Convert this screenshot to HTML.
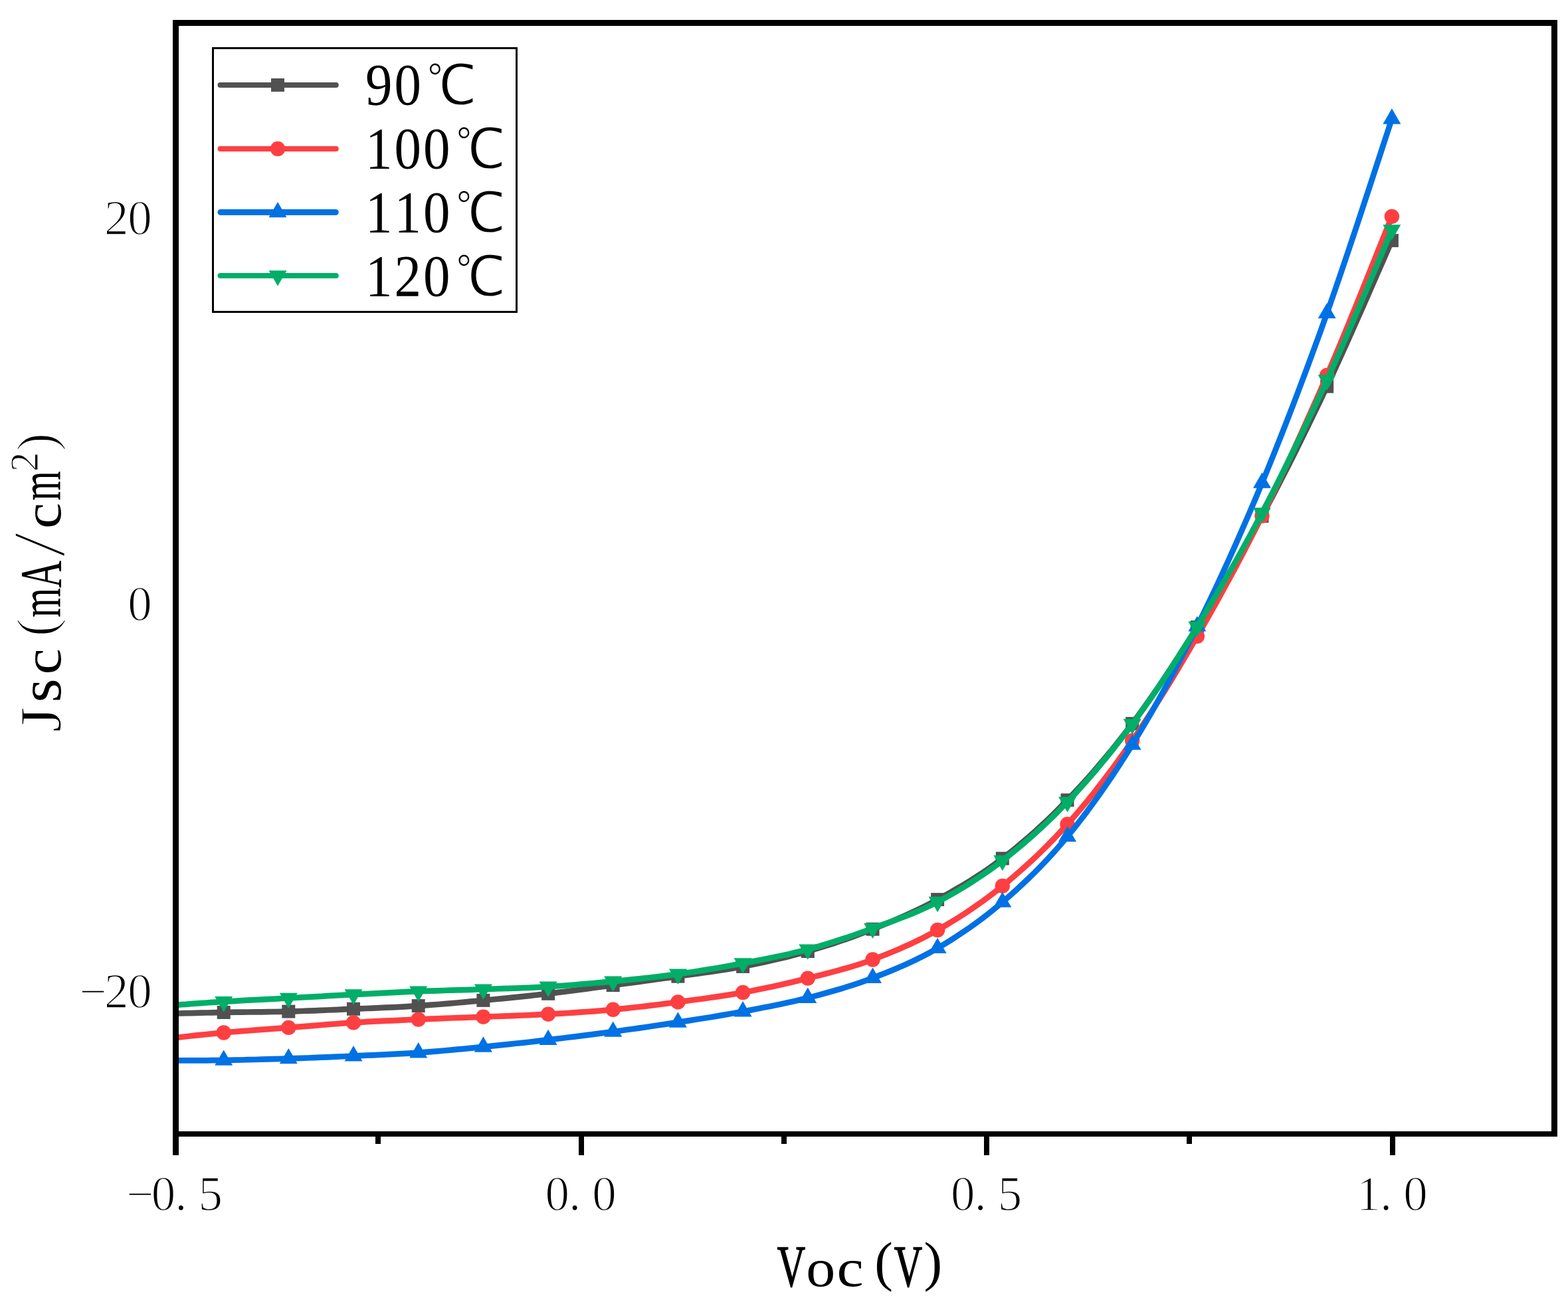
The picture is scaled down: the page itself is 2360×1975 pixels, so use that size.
<!DOCTYPE html>
<html><head><meta charset="utf-8"><title>J-V curves</title>
<style>
html,body{margin:0;padding:0;background:#fff;}
svg{display:block;}
text{font-family:"Liberation Serif","Noto Serif CJK SC",serif;fill:#000;text-anchor:middle;}
.tk{font-size:73px;stroke:#fff;stroke-width:1.6px;}
.lg{font-size:88px;}
.deg{font-size:84px;stroke:#fff;stroke-width:1.6px;font-family:"Liberation Serif","WenQuanYi Zen Hei",sans-serif;}
.ti{font-size:88px;}
.tij{font-size:88px;stroke:#fff;stroke-width:1.4px;}
.tib{font-size:88px;stroke:#000;stroke-width:1.6px;}
.sup{font-size:62px;stroke:#fff;stroke-width:1.2px;}
.parx{font-size:83px;}
.par{font-size:83px;stroke:#fff;stroke-width:2px;}
.sl{font-size:113px;stroke:#fff;stroke-width:2.6px;}
</style></head>
<body>
<svg width="2360" height="1975" viewBox="0 0 2360 1975">
<rect width="2360" height="1975" fill="#fff"/>
<g>
<path d="M264.5 1525.6 L268.7 1525.5 L273.9 1525.4 L280 1525.2 L286.9 1525.1 L294.5 1524.9 L302.5 1524.7 L310.9 1524.5 L319.4 1524.3 L328.1 1524.2 L336.7 1524 L345.4 1523.9 L354.6 1523.7 L364.1 1523.6 L373.9 1523.5 L383.9 1523.4 L394 1523.3 L404.2 1523.2 L414.4 1523 L424.5 1522.8 L434.3 1522.6 L444.1 1522.3 L453.9 1522 L463.6 1521.7 L473.4 1521.3 L483.2 1520.9 L492.9 1520.5 L502.7 1520.1 L512.5 1519.7 L522.3 1519.2 L532 1518.8 L541.8 1518.4 L551.6 1518 L561.3 1517.6 L571.1 1517.2 L580.9 1516.7 L590.6 1516.3 L600.4 1515.8 L610.2 1515.3 L619.9 1514.7 L629.7 1514.1 L639.5 1513.4 L649.2 1512.7 L659 1512 L668.8 1511.2 L678.5 1510.3 L688.3 1509.5 L698.1 1508.6 L707.8 1507.7 L717.6 1506.8 L727.4 1505.9 L737.1 1505 L746.9 1504 L756.7 1503.1 L766.5 1502.1 L776.2 1501.1 L786 1500.1 L795.8 1499.1 L805.5 1498 L815.3 1496.9 L825.1 1495.8 L834.8 1494.6 L844.6 1493.4 L854.4 1492.2 L864.1 1490.9 L873.9 1489.7 L883.7 1488.4 L893.4 1487 L903.2 1485.7 L913 1484.4 L922.7 1483.1 L932.5 1481.8 L942.3 1480.5 L952 1479.2 L961.8 1477.9 L971.6 1476.5 L981.3 1475.2 L991.1 1473.8 L1000.9 1472.5 L1010.7 1471.1 L1020.4 1469.7 L1030.2 1468.3 L1040 1467 L1049.7 1465.6 L1059.5 1464.3 L1069.3 1462.9 L1079 1461.5 L1088.8 1460 L1098.6 1458.4 L1108.3 1456.7 L1118.1 1454.9 L1127.9 1453 L1137.6 1451 L1147.4 1449 L1157.2 1446.8 L1166.9 1444.6 L1176.7 1442.3 L1186.5 1439.9 L1196.2 1437.4 L1206 1434.7 L1215.8 1432 L1225.5 1429.1 L1235.3 1426.2 L1245.1 1423.1 L1254.9 1420 L1264.6 1416.7 L1274.4 1413.3 L1284.2 1409.8 L1293.9 1406.2 L1303.7 1402.5 L1313.5 1398.7 L1323.2 1394.8 L1333 1390.8 L1342.8 1386.7 L1352.5 1382.5 L1362.3 1378.2 L1372.1 1373.7 L1381.8 1369.1 L1391.6 1364.3 L1401.4 1359.3 L1411.1 1354.1 L1420.9 1348.7 L1430.7 1343.3 L1440.4 1337.6 L1450.2 1331.9 L1460 1325.9 L1469.7 1319.7 L1479.5 1313.3 L1489.3 1306.6 L1499.1 1299.6 L1508.8 1292.3 L1518.6 1284.7 L1528.4 1276.8 L1538.1 1268.7 L1547.9 1260.3 L1557.7 1251.7 L1567.4 1242.8 L1577.2 1233.6 L1587 1224.1 L1596.7 1214.4 L1606.5 1204.4 L1616.3 1194.1 L1626 1183.6 L1635.8 1172.8 L1645.6 1161.8 L1655.3 1150.4 L1665.1 1138.8 L1674.9 1126.9 L1684.6 1114.7 L1694.4 1102.2 L1704.2 1089.3 L1713.9 1076.1 L1723.7 1062.5 L1733.5 1048.6 L1743.3 1034.4 L1753 1019.9 L1762.8 1005.1 L1772.6 990.2 L1782.3 974.9 L1792.1 959.6 L1801.9 944 L1811.6 928.3 L1821.4 912.4 L1831.2 896.3 L1840.9 880 L1850.7 863.5 L1860.5 846.7 L1870.2 829.7 L1880 812.4 L1889.8 794.7 L1899.5 776.8 L1909.3 758.5 L1919.1 740 L1928.8 721.1 L1938.6 701.9 L1948.4 682.5 L1958.1 662.8 L1967.9 642.9 L1977.7 622.7 L1987.5 602.3 L1997.2 581.7 L2007.4 559.7 L2018.3 535.8 L2029.6 510.7 L2041 485.1 L2052.2 459.7 L2062.9 435.3 L2072.8 412.6 L2081.6 392.4 L2089.1 375.3 L2094.9 362.1" fill="none" stroke="#515151" stroke-width="8.7" stroke-linejoin="round"/>
<rect x="326.7" y="1514" width="20" height="20" fill="#515151"/>
<rect x="424.3" y="1512.6" width="20" height="20" fill="#515151"/>
<rect x="522" y="1508.8" width="20" height="20" fill="#515151"/>
<rect x="619.7" y="1504.1" width="20" height="20" fill="#515151"/>
<rect x="717.4" y="1495.9" width="20" height="20" fill="#515151"/>
<rect x="815.1" y="1485.8" width="20" height="20" fill="#515151"/>
<rect x="912.7" y="1473.1" width="20" height="20" fill="#515151"/>
<rect x="1010.4" y="1459.7" width="20" height="20" fill="#515151"/>
<rect x="1108.1" y="1444.9" width="20" height="20" fill="#515151"/>
<rect x="1205.8" y="1422" width="20" height="20" fill="#515151"/>
<rect x="1303.5" y="1388.7" width="20" height="20" fill="#515151"/>
<rect x="1401.1" y="1344.1" width="20" height="20" fill="#515151"/>
<rect x="1498.8" y="1282.3" width="20" height="20" fill="#515151"/>
<rect x="1596.5" y="1194.4" width="20" height="20" fill="#515151"/>
<rect x="1694.2" y="1079.3" width="20" height="20" fill="#515151"/>
<rect x="1791.9" y="934" width="20" height="20" fill="#515151"/>
<rect x="1889.5" y="766.8" width="20" height="20" fill="#515151"/>
<rect x="1987.2" y="571.7" width="20" height="20" fill="#515151"/>
<rect x="2084.9" y="352.1" width="20" height="20" fill="#515151"/>
<path d="M264.5 1562 L268.7 1561.6 L273.9 1561 L280 1560.3 L286.9 1559.5 L294.5 1558.7 L302.5 1557.9 L310.9 1557 L319.4 1556.1 L328.1 1555.3 L336.7 1554.5 L345.4 1553.7 L354.6 1553 L364.1 1552.2 L373.9 1551.5 L383.9 1550.7 L394 1549.9 L404.2 1549.2 L414.4 1548.4 L424.5 1547.7 L434.3 1546.9 L444.1 1546.1 L453.9 1545.4 L463.6 1544.6 L473.4 1543.8 L483.2 1543 L492.9 1542.2 L502.7 1541.5 L512.5 1540.7 L522.3 1540 L532 1539.4 L541.8 1538.8 L551.6 1538.2 L561.3 1537.7 L571.1 1537.2 L580.9 1536.7 L590.6 1536.3 L600.4 1535.8 L610.2 1535.4 L619.9 1534.9 L629.7 1534.5 L639.5 1534.1 L649.2 1533.7 L659 1533.3 L668.8 1532.9 L678.5 1532.5 L688.3 1532.2 L698.1 1531.8 L707.8 1531.5 L717.6 1531.1 L727.4 1530.7 L737.1 1530.3 L746.9 1530 L756.7 1529.6 L766.5 1529.3 L776.2 1528.9 L786 1528.5 L795.8 1528.1 L805.5 1527.7 L815.3 1527.2 L825.1 1526.7 L834.8 1526.1 L844.6 1525.6 L854.4 1525 L864.1 1524.4 L873.9 1523.7 L883.7 1523 L893.4 1522.3 L903.2 1521.5 L913 1520.7 L922.7 1519.8 L932.5 1518.9 L942.3 1517.9 L952 1516.8 L961.8 1515.7 L971.6 1514.6 L981.3 1513.4 L991.1 1512.2 L1000.9 1510.9 L1010.7 1509.7 L1020.4 1508.4 L1030.2 1507.1 L1040 1505.8 L1049.7 1504.5 L1059.5 1503.2 L1069.3 1501.8 L1079 1500.4 L1088.8 1498.9 L1098.6 1497.4 L1108.3 1495.7 L1118.1 1494 L1127.9 1492.2 L1137.6 1490.3 L1147.4 1488.3 L1157.2 1486.3 L1166.9 1484.2 L1176.7 1482 L1186.5 1479.7 L1196.2 1477.4 L1206 1475 L1215.8 1472.6 L1225.5 1470.1 L1235.3 1467.7 L1245.1 1465.2 L1254.9 1462.6 L1264.6 1460 L1274.4 1457.2 L1284.2 1454.3 L1293.9 1451.3 L1303.7 1448 L1313.5 1444.5 L1323.2 1440.8 L1333 1437 L1342.8 1433 L1352.5 1428.9 L1362.3 1424.6 L1372.1 1420.2 L1381.8 1415.5 L1391.6 1410.6 L1401.4 1405.4 L1411.1 1400 L1420.9 1394.4 L1430.7 1388.6 L1440.4 1382.6 L1450.2 1376.3 L1460 1369.9 L1469.7 1363.2 L1479.5 1356.2 L1489.3 1349 L1499.1 1341.5 L1508.8 1333.7 L1518.6 1325.6 L1528.4 1317.3 L1538.1 1308.8 L1547.9 1300 L1557.7 1291 L1567.4 1281.6 L1577.2 1271.9 L1587 1261.9 L1596.7 1251.5 L1606.5 1240.8 L1616.3 1229.7 L1626 1218.2 L1635.8 1206.5 L1645.6 1194.4 L1655.3 1181.9 L1665.1 1169.2 L1674.9 1156.1 L1684.6 1142.7 L1694.4 1129 L1704.2 1115 L1713.9 1100.7 L1723.7 1086 L1733.5 1070.9 L1743.3 1055.5 L1753 1039.9 L1762.8 1023.9 L1772.6 1007.7 L1782.3 991.3 L1792.1 974.6 L1801.9 957.8 L1811.6 940.8 L1821.4 923.6 L1831.2 906.1 L1840.9 888.5 L1850.7 870.5 L1860.5 852.4 L1870.2 833.9 L1880 815.1 L1889.8 796 L1899.5 776.5 L1909.3 756.7 L1919.1 736.6 L1928.8 716.1 L1938.6 695.4 L1948.4 674.4 L1958.1 653 L1967.9 631.4 L1977.7 609.5 L1987.5 587.4 L1997.2 565 L2007.4 541.1 L2018.3 515.1 L2029.6 487.8 L2041 459.9 L2052.2 432.2 L2062.9 405.6 L2072.8 380.9 L2081.6 358.9 L2089.1 340.3 L2094.9 325.9" fill="none" stroke="#FE3F42" stroke-width="8.7" stroke-linejoin="round"/>
<circle cx="336.7" cy="1554.5" r="11.2" fill="#FE3F42"/>
<circle cx="434.3" cy="1546.9" r="11.2" fill="#FE3F42"/>
<circle cx="532" cy="1539.4" r="11.2" fill="#FE3F42"/>
<circle cx="629.7" cy="1534.5" r="11.2" fill="#FE3F42"/>
<circle cx="727.4" cy="1530.7" r="11.2" fill="#FE3F42"/>
<circle cx="825.1" cy="1526.7" r="11.2" fill="#FE3F42"/>
<circle cx="922.7" cy="1519.8" r="11.2" fill="#FE3F42"/>
<circle cx="1020.4" cy="1508.4" r="11.2" fill="#FE3F42"/>
<circle cx="1118.1" cy="1494" r="11.2" fill="#FE3F42"/>
<circle cx="1215.8" cy="1472.6" r="11.2" fill="#FE3F42"/>
<circle cx="1313.5" cy="1444.5" r="11.2" fill="#FE3F42"/>
<circle cx="1411.1" cy="1400" r="11.2" fill="#FE3F42"/>
<circle cx="1508.8" cy="1333.7" r="11.2" fill="#FE3F42"/>
<circle cx="1606.5" cy="1240.8" r="11.2" fill="#FE3F42"/>
<circle cx="1704.2" cy="1115" r="11.2" fill="#FE3F42"/>
<circle cx="1801.9" cy="957.8" r="11.2" fill="#FE3F42"/>
<circle cx="1899.5" cy="776.5" r="11.2" fill="#FE3F42"/>
<circle cx="1997.2" cy="565" r="11.2" fill="#FE3F42"/>
<circle cx="2094.9" cy="325.9" r="11.2" fill="#FE3F42"/>
<path d="M264.5 1596.3 L268.7 1596.3 L273.9 1596.3 L280 1596.3 L286.9 1596.3 L294.5 1596.3 L302.5 1596.3 L310.9 1596.3 L319.4 1596.2 L328.1 1596.1 L336.7 1596 L345.4 1595.8 L354.6 1595.7 L364.1 1595.5 L373.9 1595.2 L383.9 1595 L394 1594.7 L404.2 1594.4 L414.4 1594.1 L424.5 1593.8 L434.3 1593.5 L444.1 1593.2 L453.9 1592.8 L463.6 1592.5 L473.4 1592.1 L483.2 1591.7 L492.9 1591.3 L502.7 1590.9 L512.5 1590.5 L522.3 1590 L532 1589.6 L541.8 1589.2 L551.6 1588.7 L561.3 1588.3 L571.1 1587.9 L580.9 1587.4 L590.6 1586.9 L600.4 1586.4 L610.2 1585.9 L619.9 1585.3 L629.7 1584.6 L639.5 1583.9 L649.2 1583.1 L659 1582.3 L668.8 1581.5 L678.5 1580.6 L688.3 1579.7 L698.1 1578.8 L707.8 1577.8 L717.6 1576.9 L727.4 1575.9 L737.1 1574.9 L746.9 1573.9 L756.7 1572.9 L766.5 1571.9 L776.2 1570.8 L786 1569.8 L795.8 1568.7 L805.5 1567.6 L815.3 1566.4 L825.1 1565.3 L834.8 1564.1 L844.6 1563 L854.4 1561.8 L864.1 1560.6 L873.9 1559.4 L883.7 1558.1 L893.4 1556.9 L903.2 1555.6 L913 1554.3 L922.7 1553 L932.5 1551.7 L942.3 1550.3 L952 1549 L961.8 1547.6 L971.6 1546.2 L981.3 1544.8 L991.1 1543.3 L1000.9 1541.9 L1010.7 1540.4 L1020.4 1538.9 L1030.2 1537.4 L1040 1535.9 L1049.7 1534.3 L1059.5 1532.8 L1069.3 1531.2 L1079 1529.6 L1088.8 1527.9 L1098.6 1526.3 L1108.3 1524.5 L1118.1 1522.7 L1127.9 1520.9 L1137.6 1519 L1147.4 1517.1 L1157.2 1515.2 L1166.9 1513.3 L1176.7 1511.2 L1186.5 1509.1 L1196.2 1506.9 L1206 1504.6 L1215.8 1502.1 L1225.5 1499.6 L1235.3 1497 L1245.1 1494.3 L1254.9 1491.5 L1264.6 1488.7 L1274.4 1485.7 L1284.2 1482.6 L1293.9 1479.3 L1303.7 1475.8 L1313.5 1472.2 L1323.2 1468.4 L1333 1464.6 L1342.8 1460.6 L1352.5 1456.5 L1362.3 1452.2 L1372.1 1447.7 L1381.8 1443 L1391.6 1438.1 L1401.4 1432.8 L1411.1 1427.3 L1420.9 1421.5 L1430.7 1415.5 L1440.4 1409.2 L1450.2 1402.7 L1460 1396 L1469.7 1389 L1479.5 1381.7 L1489.3 1374.1 L1499.1 1366.2 L1508.8 1358 L1518.6 1349.5 L1528.4 1340.8 L1538.1 1331.8 L1547.9 1322.5 L1557.7 1313 L1567.4 1303 L1577.2 1292.7 L1587 1282 L1596.7 1270.9 L1606.5 1259.3 L1616.3 1247.3 L1626 1234.8 L1635.8 1222 L1645.6 1208.7 L1655.3 1195.1 L1665.1 1181.1 L1674.9 1166.7 L1684.6 1151.8 L1694.4 1136.6 L1704.2 1121 L1713.9 1105 L1723.7 1088.5 L1733.5 1071.7 L1743.3 1054.4 L1753 1036.8 L1762.8 1018.7 L1772.6 1000.3 L1782.3 981.5 L1792.1 962.3 L1801.9 942.8 L1811.6 922.9 L1821.4 902.7 L1831.2 882 L1840.9 861.1 L1850.7 839.7 L1860.5 817.9 L1870.2 795.8 L1880 773.2 L1889.8 750.3 L1899.5 726.9 L1909.3 703.1 L1919.1 678.9 L1928.8 654.4 L1938.6 629.4 L1948.4 604 L1958.1 578.2 L1967.9 552.1 L1977.7 525.6 L1987.5 498.7 L1997.2 471.5 L2007.4 442.4 L2018.3 410.7 L2029.6 377.2 L2041 343.1 L2052.2 309.2 L2062.9 276.7 L2072.8 246.3 L2081.6 219.3 L2089.1 196.5 L2094.9 178.9" fill="none" stroke="#0071E4" stroke-width="8.7" stroke-linejoin="round"/>
<polygon points="336.7,1580.4 350.2,1603.8 323.2,1603.8" fill="#0071E4"/>
<polygon points="434.3,1577.9 447.8,1601.3 420.8,1601.3" fill="#0071E4"/>
<polygon points="532,1574 545.5,1597.4 518.5,1597.4" fill="#0071E4"/>
<polygon points="629.7,1569 643.2,1592.4 616.2,1592.4" fill="#0071E4"/>
<polygon points="727.4,1560.3 740.9,1583.7 713.9,1583.7" fill="#0071E4"/>
<polygon points="825.1,1549.7 838.6,1573.1 811.6,1573.1" fill="#0071E4"/>
<polygon points="922.7,1537.4 936.2,1560.8 909.2,1560.8" fill="#0071E4"/>
<polygon points="1020.4,1523.3 1033.9,1546.7 1006.9,1546.7" fill="#0071E4"/>
<polygon points="1118.1,1507.1 1131.6,1530.5 1104.6,1530.5" fill="#0071E4"/>
<polygon points="1215.8,1486.5 1229.3,1509.9 1202.3,1509.9" fill="#0071E4"/>
<polygon points="1313.5,1456.6 1327,1480 1300,1480" fill="#0071E4"/>
<polygon points="1411.1,1411.7 1424.6,1435.1 1397.6,1435.1" fill="#0071E4"/>
<polygon points="1508.8,1342.4 1522.3,1365.8 1495.3,1365.8" fill="#0071E4"/>
<polygon points="1606.5,1243.7 1620,1267.1 1593,1267.1" fill="#0071E4"/>
<polygon points="1704.2,1105.4 1717.7,1128.8 1690.7,1128.8" fill="#0071E4"/>
<polygon points="1801.9,927.2 1815.4,950.6 1788.4,950.6" fill="#0071E4"/>
<polygon points="1899.5,711.3 1913,734.7 1886,734.7" fill="#0071E4"/>
<polygon points="1997.2,455.9 2010.7,479.3 1983.7,479.3" fill="#0071E4"/>
<polygon points="2094.9,163.3 2108.4,186.7 2081.4,186.7" fill="#0071E4"/>
<path d="M264.5 1512.9 L268.7 1512.6 L273.9 1512.2 L280 1511.8 L286.9 1511.2 L294.5 1510.7 L302.5 1510.1 L310.9 1509.5 L319.4 1508.9 L328.1 1508.3 L336.7 1507.8 L345.4 1507.3 L354.6 1506.8 L364.1 1506.2 L373.9 1505.7 L383.9 1505.2 L394 1504.6 L404.2 1504.1 L414.4 1503.6 L424.5 1503 L434.3 1502.5 L444.1 1502 L453.9 1501.4 L463.6 1500.9 L473.4 1500.3 L483.2 1499.8 L492.9 1499.2 L502.7 1498.7 L512.5 1498.1 L522.3 1497.6 L532 1497.1 L541.8 1496.6 L551.6 1496.1 L561.3 1495.6 L571.1 1495.1 L580.9 1494.6 L590.6 1494.1 L600.4 1493.6 L610.2 1493.1 L619.9 1492.7 L629.7 1492.3 L639.5 1491.9 L649.2 1491.6 L659 1491.3 L668.8 1491 L678.5 1490.7 L688.3 1490.4 L698.1 1490.1 L707.8 1489.8 L717.6 1489.5 L727.4 1489.2 L737.1 1488.9 L746.9 1488.5 L756.7 1488.2 L766.5 1487.9 L776.2 1487.6 L786 1487.2 L795.8 1486.8 L805.5 1486.4 L815.3 1485.9 L825.1 1485.3 L834.8 1484.7 L844.6 1484 L854.4 1483.3 L864.1 1482.5 L873.9 1481.7 L883.7 1480.9 L893.4 1480 L903.2 1479.2 L913 1478.2 L922.7 1477.3 L932.5 1476.3 L942.3 1475.4 L952 1474.4 L961.8 1473.4 L971.6 1472.3 L981.3 1471.2 L991.1 1470.1 L1000.9 1468.9 L1010.7 1467.6 L1020.4 1466.3 L1030.2 1464.9 L1040 1463.5 L1049.7 1462 L1059.5 1460.4 L1069.3 1458.8 L1079 1457.2 L1088.8 1455.5 L1098.6 1453.7 L1108.3 1451.9 L1118.1 1450.1 L1127.9 1448.2 L1137.6 1446.4 L1147.4 1444.5 L1157.2 1442.6 L1166.9 1440.6 L1176.7 1438.6 L1186.5 1436.4 L1196.2 1434.1 L1206 1431.7 L1215.8 1429.2 L1225.5 1426.5 L1235.3 1423.7 L1245.1 1420.7 L1254.9 1417.7 L1264.6 1414.5 L1274.4 1411.3 L1284.2 1408 L1293.9 1404.5 L1303.7 1401.1 L1313.5 1397.5 L1323.2 1393.9 L1333 1390.4 L1342.8 1386.8 L1352.5 1383.2 L1362.3 1379.5 L1372.1 1375.6 L1381.8 1371.5 L1391.6 1367.1 L1401.4 1362.5 L1411.1 1357.6 L1420.9 1352.4 L1430.7 1347 L1440.4 1341.4 L1450.2 1335.6 L1460 1329.5 L1469.7 1323.2 L1479.5 1316.7 L1489.3 1309.9 L1499.1 1302.8 L1508.8 1295.4 L1518.6 1287.8 L1528.4 1279.9 L1538.1 1271.8 L1547.9 1263.4 L1557.7 1254.7 L1567.4 1245.8 L1577.2 1236.6 L1587 1227.1 L1596.7 1217.3 L1606.5 1207.2 L1616.3 1196.8 L1626 1186.1 L1635.8 1175.1 L1645.6 1163.9 L1655.3 1152.3 L1665.1 1140.5 L1674.9 1128.3 L1684.6 1115.9 L1694.4 1103.1 L1704.2 1090.1 L1713.9 1076.7 L1723.7 1063 L1733.5 1049 L1743.3 1034.7 L1753 1020.1 L1762.8 1005.3 L1772.6 990.2 L1782.3 974.8 L1792.1 959.2 L1801.9 943.4 L1811.6 927.4 L1821.4 911.2 L1831.2 894.7 L1840.9 878 L1850.7 861 L1860.5 843.8 L1870.2 826.3 L1880 808.5 L1889.8 790.4 L1899.5 772 L1909.3 753.3 L1919.1 734.3 L1928.8 714.9 L1938.6 695.3 L1948.4 675.5 L1958.1 655.3 L1967.9 634.9 L1977.7 614.2 L1987.5 593.3 L1997.2 572.1 L2007.4 549.5 L2018.3 525 L2029.6 499.1 L2041 472.7 L2052.2 446.6 L2062.9 421.5 L2072.8 398.1 L2081.6 377.3 L2089.1 359.7 L2094.9 346.1" fill="none" stroke="#00AE68" stroke-width="8.7" stroke-linejoin="round"/>
<polygon points="336.7,1523.4 350.2,1500 323.2,1500" fill="#00AE68"/>
<polygon points="434.3,1518.1 447.8,1494.7 420.8,1494.7" fill="#00AE68"/>
<polygon points="532,1512.7 545.5,1489.3 518.5,1489.3" fill="#00AE68"/>
<polygon points="629.7,1507.9 643.2,1484.5 616.2,1484.5" fill="#00AE68"/>
<polygon points="727.4,1504.8 740.9,1481.4 713.9,1481.4" fill="#00AE68"/>
<polygon points="825.1,1500.9 838.6,1477.5 811.6,1477.5" fill="#00AE68"/>
<polygon points="922.7,1492.9 936.2,1469.5 909.2,1469.5" fill="#00AE68"/>
<polygon points="1020.4,1481.9 1033.9,1458.5 1006.9,1458.5" fill="#00AE68"/>
<polygon points="1118.1,1465.7 1131.6,1442.3 1104.6,1442.3" fill="#00AE68"/>
<polygon points="1215.8,1444.8 1229.3,1421.4 1202.3,1421.4" fill="#00AE68"/>
<polygon points="1313.5,1413.1 1327,1389.7 1300,1389.7" fill="#00AE68"/>
<polygon points="1411.1,1373.2 1424.6,1349.8 1397.6,1349.8" fill="#00AE68"/>
<polygon points="1508.8,1311 1522.3,1287.6 1495.3,1287.6" fill="#00AE68"/>
<polygon points="1606.5,1222.8 1620,1199.4 1593,1199.4" fill="#00AE68"/>
<polygon points="1704.2,1105.7 1717.7,1082.3 1690.7,1082.3" fill="#00AE68"/>
<polygon points="1801.9,959 1815.4,935.6 1788.4,935.6" fill="#00AE68"/>
<polygon points="1899.5,787.6 1913,764.2 1886,764.2" fill="#00AE68"/>
<polygon points="1997.2,587.7 2010.7,564.3 1983.7,564.3" fill="#00AE68"/>
<polygon points="2094.9,361.7 2108.4,338.3 2081.4,338.3" fill="#00AE68"/>
</g>
<rect x="320.5" y="72.5" width="457" height="397" fill="#fff" stroke="#000" stroke-width="3"/>
<line x1="331.5" y1="128" x2="505.8" y2="128" stroke="#515151" stroke-width="8" stroke-linecap="round"/>
<rect x="408" y="118" width="20" height="20" fill="#515151"/>
<line x1="331.5" y1="224" x2="505.8" y2="224" stroke="#FE3F42" stroke-width="8" stroke-linecap="round"/>
<circle cx="418" cy="224" r="11.2" fill="#FE3F42"/>
<line x1="332.0" y1="319.5" x2="505.3" y2="319.5" stroke="#0071E4" stroke-width="9" stroke-linecap="round"/>
<polygon points="418,303.9 431.5,327.3 404.5,327.3" fill="#0071E4"/>
<line x1="331.5" y1="415" x2="505.8" y2="415" stroke="#00AE68" stroke-width="8" stroke-linecap="round"/>
<polygon points="418,430.6 431.5,407.2 404.5,407.2" fill="#00AE68"/>
<text transform="scale(0.92 1)" x="619.8 667.1" y="157.3" class="lg">90</text>
<text transform="translate(679.3 157.3) scale(0.96 1)" class="deg">℃</text>
<text transform="scale(0.92 1)" x="619.8 667.1 714.4" y="253.1" class="lg">100</text>
<text transform="translate(722.8 253.1) scale(0.96 1)" class="deg">℃</text>
<text transform="scale(0.92 1)" x="619.8 667.1 714.4" y="348.9" class="lg">110</text>
<text transform="translate(722.8 348.9) scale(0.96 1)" class="deg">℃</text>
<text transform="scale(0.92 1)" x="619.8 667.1 714.4" y="444.7" class="lg">120</text>
<text transform="translate(722.8 444.7) scale(0.96 1)" class="deg">℃</text>
<rect x="260" y="30" width="9" height="1709" fill="#000"/>
<rect x="260" y="30" width="2084" height="9" fill="#000"/>
<rect x="2335" y="30" width="9" height="1681" fill="#000"/>
<rect x="260" y="1703" width="2084" height="8" fill="#000"/>
<rect x="565" y="1711" width="8" height="11" fill="#000"/>
<rect x="871" y="1711" width="8" height="28" fill="#000"/>
<rect x="1176" y="1711" width="8" height="11" fill="#000"/>
<rect x="1481" y="1711" width="8" height="28" fill="#000"/>
<rect x="1786" y="1711" width="8" height="11" fill="#000"/>
<rect x="2092" y="1711" width="8" height="28" fill="#000"/>
<text x="210.5 245.9 272.4 316.7" y="1821.8" class="tk">−0.5</text>
<text x="838.7 865.2 909.5" y="1821.8" class="tk">0.0</text>
<text x="1449.2 1475.7 1520" y="1821.8" class="tk">0.5</text>
<text x="2059.7 2086.2 2130.5" y="1821.8" class="tk">1.0</text>
<text x="175.2 210.6" y="353.1" class="tk">20</text>
<text x="210.6" y="933.8" class="tk">0</text>
<text x="139.8 175.2 210.6" y="1516.6" class="tk">−20</text>
<text transform="translate(1191 1936) scale(0.667 1)" class="tib">V</text>
<text transform="translate(1235.3 1936) scale(1 0.91)" class="ti">o</text>
<text transform="translate(1279.6 1936) scale(1.03 0.91)" class="ti">c</text>
<text x="1330" y="1926.5" class="parx">(</text>
<text transform="translate(1367 1936) scale(0.667 1)" class="tib">V</text>
<text x="1404.4" y="1926.5" class="parx">)</text>
<text transform="rotate(-90) translate(-1083.2 91) scale(1.12 1)" class="tij">J</text>
<text transform="rotate(-90) translate(-1039.5 91) scale(1.05 1)" class="ti">s</text>
<text transform="rotate(-90) translate(-995.6 91) scale(1.0 0.91)" class="ti">c</text>
<text transform="rotate(-90) translate(-944.4 81.5) scale(1 1)" class="par">(</text>
<text transform="rotate(-90) translate(-907.3 91) scale(0.65 1)" class="ti">m</text>
<text transform="rotate(-90) translate(-864.3 91) scale(0.65 1)" class="ti">A</text>
<text transform="rotate(-90) translate(-820 97) scale(1.2 1)" class="sl">/</text>
<text transform="rotate(-90) translate(-776.2 91) scale(1.0 0.91)" class="ti">c</text>
<text transform="rotate(-90) translate(-731.2 91) scale(0.65 1)" class="ti">m</text>
<text transform="rotate(-90) translate(-695.4 57) scale(0.95 1)" class="sup">2</text>
<text transform="rotate(-90) translate(-665.5 81.5) scale(1 1)" class="par">)</text>
</svg>
</body></html>
